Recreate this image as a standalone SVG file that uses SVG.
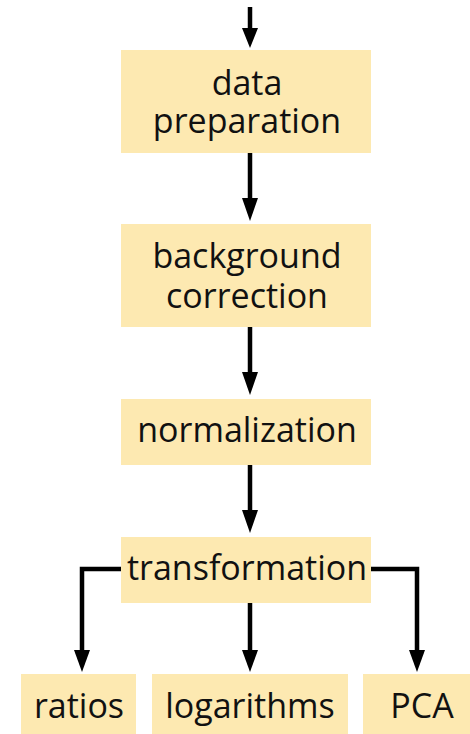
<svg xmlns="http://www.w3.org/2000/svg" width="470" height="734" viewBox="0 0 470 734">
  <defs>
    <marker id="arrow" markerUnits="userSpaceOnUse" markerWidth="16" markerHeight="22" refX="16" refY="8" orient="auto">
      <path d="M0,0 L16,8 L0,16 Z" fill="#000"/>
    </marker>
    <style>
      .box { fill: #FDE9B1; }
      .label { font-family: "Open Sans", "Noto Sans", sans-serif; font-size: 34px; fill: #111; text-anchor: middle; }
      .edge { fill: none; stroke: #000; stroke-width: 4.5; }
    </style>
  </defs>
  <rect width="470" height="734" fill="#fff"/>

  <g id="connectors">
    <path class="edge" d="M250,7 V32"/>
    <path d="M242,28 L258,28 L250,48 Z"/>
    <path class="edge" d="M250,153 V202"/>
    <path d="M242,198 L258,198 L250,221 Z"/>
    <path class="edge" d="M250,327 V376"/>
    <path d="M242,372 L258,372 L250,395 Z"/>
    <path class="edge" d="M250,465 V514"/>
    <path d="M242,510 L258,510 L250,533 Z"/>
    <path class="edge" d="M121,569 H82 V654"/>
    <path d="M74,650 L90,650 L82,672 Z"/>
    <path class="edge" d="M250,603 V654"/>
    <path d="M242,650 L258,650 L250,672 Z"/>
    <path class="edge" d="M371,569 H417 V654"/>
    <path d="M409,650 L425,650 L417,672 Z"/>
  </g>

  <g id="data-preparation">
    <rect class="box" x="121" y="50" width="250" height="103"/>
    <text class="label" x="247" y="95">data</text>
    <text class="label" x="247" y="133">preparation</text>
  </g>

  <g id="background-correction">
    <rect class="box" x="121" y="224" width="250" height="103"/>
    <text class="label" x="247" y="268">background</text>
    <text class="label" x="247" y="308">correction</text>
  </g>

  <g id="normalization">
    <rect class="box" x="121" y="399" width="250" height="66"/>
    <text class="label" x="247" y="442">normalization</text>
  </g>

  <g id="transformation">
    <rect class="box" x="121" y="537" width="250" height="66"/>
    <text class="label" x="247" y="580">transformation</text>
  </g>

  <g id="ratios">
    <rect class="box" x="21" y="674" width="115" height="60"/>
    <text class="label" x="79" y="718">ratios</text>
  </g>

  <g id="logarithms">
    <rect class="box" x="152" y="674" width="196" height="60"/>
    <text class="label" x="250" y="718">logarithms</text>
  </g>

  <g id="pca">
    <rect class="box" x="363" y="674" width="107" height="60"/>
    <text class="label" x="422" y="718">PCA</text>
  </g>
</svg>
